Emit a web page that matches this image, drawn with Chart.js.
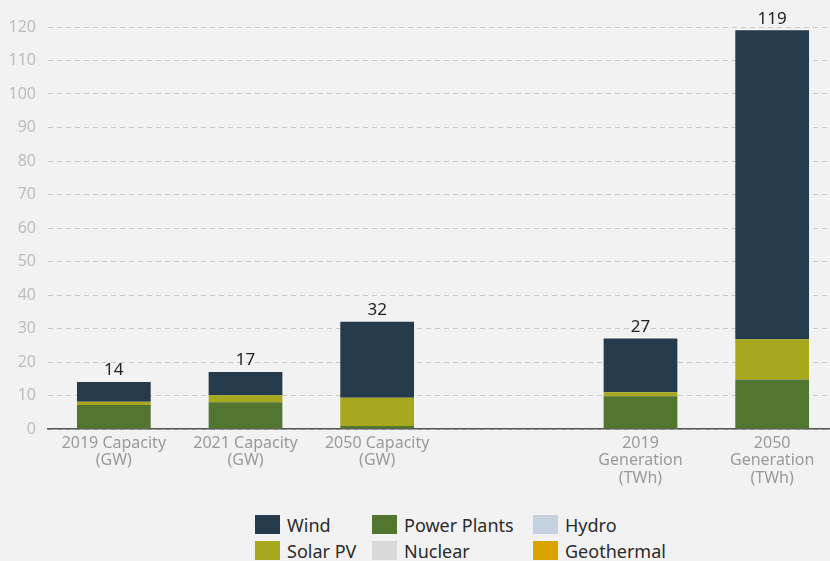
<!DOCTYPE html>
<html>
<head>
<meta charset="utf-8">
<script src="https://cdn.jsdelivr.net/npm/chart.js@4.4.1/dist/chart.umd.min.js"></script>
<style>
  html, body { margin: 0; padding: 0; background: #f2f2f2; overflow: hidden; }
  body { width: 830px; height: 561px; position: relative; font-family: "Noto Sans", sans-serif; }
  #wrap { position: absolute; left: 0; top: 0; width: 838px; height: 500px; }
  #legend {
    position: absolute; left: 255px; top: 515px;
    display: grid; grid-template-columns: 117px 161px auto; row-gap: 7px;
    font-size: 18px; color: #2b2b2b;
  }
  #legend .item { display: flex; align-items: center; height: 19px; }
  #legend .box { width: 25px; height: 19px; margin-right: 7px; }
</style>
</head>
<body>
<div id="wrap"><canvas id="chart"></canvas></div>
<div id="legend"></div>
<script>
  // categories (empty slot keeps the gap between capacity and generation)
  const categories = [
    ['2019 Capacity', '(GW)'],
    ['2021 Capacity', '(GW)'],
    ['2050 Capacity', '(GW)'],
    '',
    ['2019', 'Generation', '(TWh)'],
    ['2050', 'Generation', '(TWh)']
  ];

  // series values
  const powerPlants = [7.2, 8.0, 0.9, null, 9.8, 14.8];
  const solarPV     = [0.9, 2.1, 8.4, null, 1.2, 12.0];
  const wind        = [5.9, 6.9, 22.7, null, 16.0, 92.2];
  const hydro       = [0, 0, 0, null, 0, 0];
  const nuclear     = [0, 0, 0, null, 0, 0];
  const geothermal  = [0, 0, 0, null, 0, 0];

  // totals printed above the bars
  const totals = [14, 17, 32, null, 27, 119];

  const yTicks = [0, 10, 20, 30, 40, 50, 60, 70, 80, 90, 100, 110, 120];

  const series = [
    { label: 'Power Plants', data: powerPlants, color: '#52762f' },
    { label: 'Solar PV',     data: solarPV,     color: '#a7a81e' },
    { label: 'Hydro',        data: hydro,       color: '#c5d0e0' },
    { label: 'Nuclear',      data: nuclear,     color: '#d9d9d9' },
    { label: 'Geothermal',   data: geothermal,  color: '#d9a300' },
    { label: 'Wind',         data: wind,        color: '#253a4b' }
  ];
  const legendOrder = ['Wind', 'Power Plants', 'Hydro', 'Solar PV', 'Nuclear', 'Geothermal'];

  const totalsPlugin = {
    id: 'totals',
    afterDatasetsDraw(chart) {
      const { ctx, scales: { x, y } } = chart;
      ctx.save();
      ctx.font = '17px "Noto Sans", sans-serif';
      ctx.fillStyle = '#222';
      ctx.textAlign = 'center';
      ctx.textBaseline = 'bottom';
      totals.forEach((t, i) => {
        if (t == null) return;
        ctx.fillText(String(t), x.getPixelForValue(i), y.getPixelForValue(t) - 3);
      });
      ctx.restore();
    }
  };

  const chart = new Chart(document.getElementById('chart'), {
    type: 'bar',
    data: {
      labels: categories,
      datasets: series.map(s => ({
        label: s.label,
        data: s.data,
        backgroundColor: s.color,
        borderWidth: 0,
        categoryPercentage: 0.56,
        barPercentage: 1
      }))
    },
    options: {
      responsive: true,
      maintainAspectRatio: false,
      animation: false,
      layout: { padding: { top: 27, right: 0, left: 0, bottom: 0 } },
      scales: {
        x: {
          stacked: true,
          grid: { display: false },
          border: { display: true, color: '#555', width: 1.5 },
          ticks: { color: '#9a9a9a', font: { size: 16, family: '"Noto Sans", sans-serif', lineHeight: 1.12 }, padding: -3, maxRotation: 0, autoSkip: false },
          afterFit(scale) { scale.height = 71; }
        },
        y: {
          stacked: true,
          min: 0,
          max: 120,
          afterBuildTicks(scale) { scale.ticks = yTicks.map(v => ({ value: v })); },
          grid: { color: '#c9c9c9', drawTicks: false, lineWidth: 1 },
          border: { display: false, dash: [5, 4] },
          ticks: { color: '#bdbdbd', font: { size: 16, family: '"Noto Sans", sans-serif' }, padding: 12 },
          afterFit(scale) { scale.width = 48; }
        }
      },
      plugins: {
        legend: { display: false },
        tooltip: { enabled: false }
      }
    },
    plugins: [totalsPlugin]
  });

  // legend laid out in three aligned columns, built from the chart's datasets
  const legendEl = document.getElementById('legend');
  legendOrder.forEach(name => {
    const ds = chart.data.datasets.find(d => d.label === name);
    const item = document.createElement('div');
    item.className = 'item';
    const box = document.createElement('span');
    box.className = 'box';
    box.style.background = ds.backgroundColor;
    const txt = document.createElement('span');
    txt.textContent = ds.label;
    item.appendChild(box);
    item.appendChild(txt);
    legendEl.appendChild(item);
  });
</script>
</body>
</html>
